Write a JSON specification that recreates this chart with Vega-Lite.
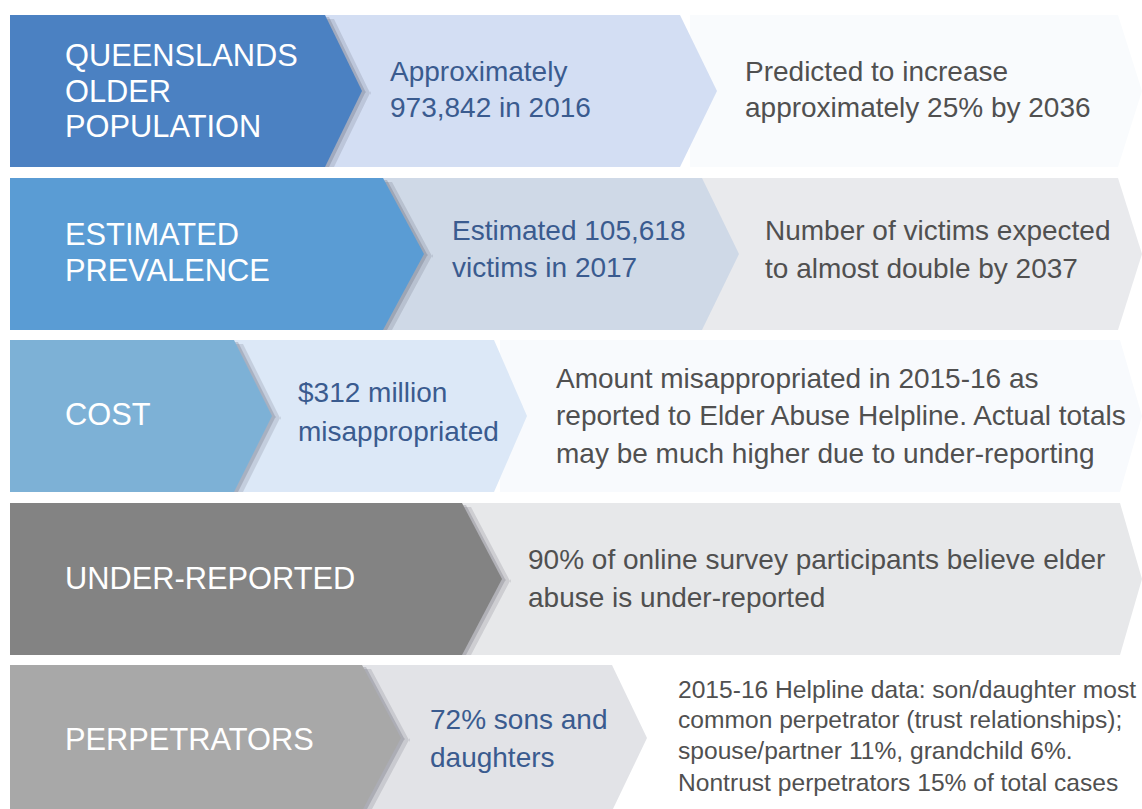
{
  "$schema": "https://vega.github.io/schema/vega-lite/v6.json",
  "width": 1142,
  "height": 809,
  "padding": 0,
  "autosize": "none",
  "background": "#ffffff",
  "config": {"view": {"stroke": null}, "axis": {"grid": false}},
  "datasets": {
    "shapes": [
      {"id": "r1note", "layer": "note", "x": 690, "y": 15, "y2": 167},
      {"id": "r1note", "layer": "note", "x": 1118, "y": 15, "y2": 167},
      {"id": "r1note", "layer": "note", "x": 1142, "y": 91, "y2": 91},
      {"id": "r1mid", "layer": "mid", "x": 300, "y": 15, "y2": 167},
      {"id": "r1mid", "layer": "mid", "x": 680, "y": 15, "y2": 167},
      {"id": "r1mid", "layer": "mid", "x": 717, "y": 91, "y2": 91},
      {"id": "r1label", "layer": "label", "x": 10, "y": 15, "y2": 167},
      {"id": "r1label", "layer": "label", "x": 325, "y": 15, "y2": 167},
      {"id": "r1label", "layer": "label", "x": 362, "y": 91, "y2": 91},

      {"id": "r2note", "layer": "note", "x": 700, "y": 178, "y2": 330},
      {"id": "r2note", "layer": "note", "x": 1118, "y": 178, "y2": 330},
      {"id": "r2note", "layer": "note", "x": 1142, "y": 254, "y2": 254},
      {"id": "r2mid", "layer": "mid", "x": 360, "y": 178, "y2": 330},
      {"id": "r2mid", "layer": "mid", "x": 702, "y": 178, "y2": 330},
      {"id": "r2mid", "layer": "mid", "x": 739, "y": 254, "y2": 254},
      {"id": "r2label", "layer": "label", "x": 10, "y": 178, "y2": 330},
      {"id": "r2label", "layer": "label", "x": 383, "y": 178, "y2": 330},
      {"id": "r2label", "layer": "label", "x": 424, "y": 254, "y2": 254},

      {"id": "r3note", "layer": "note", "x": 500, "y": 340, "y2": 492},
      {"id": "r3note", "layer": "note", "x": 1120, "y": 340, "y2": 492},
      {"id": "r3note", "layer": "note", "x": 1142, "y": 416, "y2": 416},
      {"id": "r3mid", "layer": "mid", "x": 210, "y": 340, "y2": 492},
      {"id": "r3mid", "layer": "mid", "x": 494, "y": 340, "y2": 492},
      {"id": "r3mid", "layer": "mid", "x": 527, "y": 416, "y2": 416},
      {"id": "r3label", "layer": "label", "x": 10, "y": 340, "y2": 492},
      {"id": "r3label", "layer": "label", "x": 234, "y": 340, "y2": 492},
      {"id": "r3label", "layer": "label", "x": 272, "y": 416, "y2": 416},

      {"id": "r4note", "layer": "note", "x": 440, "y": 503, "y2": 655},
      {"id": "r4note", "layer": "note", "x": 1120, "y": 503, "y2": 655},
      {"id": "r4note", "layer": "note", "x": 1142, "y": 579, "y2": 579},
      {"id": "r4label", "layer": "label", "x": 10, "y": 503, "y2": 655},
      {"id": "r4label", "layer": "label", "x": 462, "y": 503, "y2": 655},
      {"id": "r4label", "layer": "label", "x": 502, "y": 579, "y2": 579},

      {"id": "r5mid", "layer": "mid", "x": 340, "y": 665, "y2": 811},
      {"id": "r5mid", "layer": "mid", "x": 612, "y": 665, "y2": 811},
      {"id": "r5mid", "layer": "mid", "x": 647, "y": 738, "y2": 738},
      {"id": "r5label", "layer": "label", "x": 10, "y": 665, "y2": 811},
      {"id": "r5label", "layer": "label", "x": 362, "y": 665, "y2": 811},
      {"id": "r5label", "layer": "label", "x": 401, "y": 738, "y2": 738}
    ],
    "texts": [
      {"part": "label", "x": 65, "y": 57, "text": "QUEENSLANDS"},
      {"part": "label", "x": 65, "y": 93, "text": "OLDER"},
      {"part": "label", "x": 65, "y": 128, "text": "POPULATION"},
      {"part": "mid", "x": 390, "y": 73, "text": "Approximately"},
      {"part": "mid", "x": 390, "y": 109, "text": "973,842 in 2016"},
      {"part": "note", "x": 745, "y": 73, "text": "Predicted to increase"},
      {"part": "note", "x": 745, "y": 109, "text": "approximately 25% by 2036"},

      {"part": "label", "x": 65, "y": 236, "text": "ESTIMATED"},
      {"part": "label", "x": 65, "y": 272, "text": "PREVALENCE"},
      {"part": "mid", "x": 452, "y": 232, "text": "Estimated 105,618"},
      {"part": "mid", "x": 452, "y": 269, "text": "victims in 2017"},
      {"part": "note", "x": 765, "y": 232, "text": "Number of victims expected"},
      {"part": "note", "x": 765, "y": 270, "text": "to almost double by 2037"},

      {"part": "label", "x": 65, "y": 416, "text": "COST"},
      {"part": "mid", "x": 298, "y": 394, "text": "$312 million"},
      {"part": "mid", "x": 298, "y": 433, "text": "misappropriated"},
      {"part": "note", "x": 556, "y": 380, "text": "Amount misappropriated in 2015-16 as"},
      {"part": "note", "x": 556, "y": 417, "text": "reported to Elder Abuse Helpline. Actual totals"},
      {"part": "note", "x": 556, "y": 455, "text": "may be much higher due to under-reporting"},

      {"part": "label", "x": 65, "y": 580, "text": "UNDER-REPORTED"},
      {"part": "note", "x": 528, "y": 561, "text": "90% of online survey participants believe elder"},
      {"part": "note", "x": 528, "y": 599, "text": "abuse is under-reported"},

      {"part": "label", "x": 65, "y": 741, "text": "PERPETRATORS"},
      {"part": "mid", "x": 430, "y": 721, "text": "72% sons and"},
      {"part": "mid", "x": 430, "y": 759, "text": "daughters"},
      {"part": "small", "x": 678, "y": 691, "text": "2015-16 Helpline data: son/daughter most"},
      {"part": "small", "x": 678, "y": 721, "text": "common perpetrator (trust relationships);"},
      {"part": "small", "x": 678, "y": 752, "text": "spouse/partner 11%, grandchild 6%."},
      {"part": "small", "x": 678, "y": 784, "text": "Nontrust perpetrators 15% of total cases"}
    ]
  },
  "layer": [
    {
      "data": {"name": "shapes"},
      "transform": [{"filter": "datum.layer === 'note'"}],
      "mark": {"type": "area", "orient": "vertical", "interpolate": "linear"},
      "encoding": {
        "x": {"field": "x", "type": "quantitative", "scale": {"domain": [0, 1142], "nice": false, "zero": false}, "axis": null},
        "y": {"field": "y", "type": "quantitative", "scale": {"domain": [0, 809], "nice": false, "zero": false, "reverse": true}, "axis": null},
        "y2": {"field": "y2"},
        "color": {"field": "id", "type": "nominal", "legend": null,
          "scale": {"domain": ["r1note", "r2note", "r3note", "r4note", "r1mid", "r2mid", "r3mid", "r5mid", "r1label", "r2label", "r3label", "r4label", "r5label"],
                    "range": ["#f9fbfd", "#e9eaed", "#f8fafd", "#e7e8ea", "#d3def3", "#cfd9e7", "#dce8f7", "#e2e3e7", "#4b81c2", "#5a9cd4", "#7db1d6", "#838383", "#a8a8a8"]}}
      }
    },
    {
      "data": {"name": "shapes"},
      "transform": [{"filter": "datum.layer === 'mid'"}],
      "mark": {"type": "area", "orient": "vertical", "interpolate": "linear"},
      "encoding": {
        "x": {"field": "x", "type": "quantitative"},
        "y": {"field": "y", "type": "quantitative"},
        "y2": {"field": "y2"},
        "color": {"field": "id", "type": "nominal", "legend": null}
      }
    },
    {
      "data": {"name": "shapes"},
      "transform": [{"filter": "datum.layer === 'label'"}],
      "mark": {"type": "area", "orient": "vertical", "interpolate": "linear", "color": "#1a1a2a", "opacity": 0.12, "xOffset": 9, "yOffset": 4},
      "encoding": {
        "x": {"field": "x", "type": "quantitative"},
        "y": {"field": "y", "type": "quantitative"},
        "y2": {"field": "y2"},
        "detail": {"field": "id", "type": "nominal"}
      }
    },
    {
      "data": {"name": "shapes"},
      "transform": [{"filter": "datum.layer === 'label'"}],
      "mark": {"type": "area", "orient": "vertical", "interpolate": "linear", "color": "#1a1a2a", "opacity": 0.16, "xOffset": 4, "yOffset": 2},
      "encoding": {
        "x": {"field": "x", "type": "quantitative"},
        "y": {"field": "y", "type": "quantitative"},
        "y2": {"field": "y2"},
        "detail": {"field": "id", "type": "nominal"}
      }
    },
    {
      "data": {"name": "shapes"},
      "transform": [{"filter": "datum.layer === 'label'"}],
      "mark": {"type": "area", "orient": "vertical", "interpolate": "linear"},
      "encoding": {
        "x": {"field": "x", "type": "quantitative"},
        "y": {"field": "y", "type": "quantitative"},
        "y2": {"field": "y2"},
        "color": {"field": "id", "type": "nominal", "legend": null}
      }
    },
    {
      "data": {"name": "texts"},
      "transform": [{"filter": "datum.part === 'label'"}],
      "mark": {"type": "text", "align": "left", "baseline": "middle", "font": "Liberation Sans", "fontSize": 30.8, "color": "#ffffff"},
      "encoding": {
        "x": {"field": "x", "type": "quantitative"},
        "y": {"field": "y", "type": "quantitative"},
        "text": {"field": "text"}
      }
    },
    {
      "data": {"name": "texts"},
      "transform": [{"filter": "datum.part === 'mid'"}],
      "mark": {"type": "text", "align": "left", "baseline": "middle", "font": "Liberation Sans", "fontSize": 28, "color": "#3a5b8f"},
      "encoding": {
        "x": {"field": "x", "type": "quantitative"},
        "y": {"field": "y", "type": "quantitative"},
        "text": {"field": "text"}
      }
    },
    {
      "data": {"name": "texts"},
      "transform": [{"filter": "datum.part === 'note'"}],
      "mark": {"type": "text", "align": "left", "baseline": "middle", "font": "Liberation Sans", "fontSize": 28, "color": "#505050"},
      "encoding": {
        "x": {"field": "x", "type": "quantitative"},
        "y": {"field": "y", "type": "quantitative"},
        "text": {"field": "text"}
      }
    },
    {
      "data": {"name": "texts"},
      "transform": [{"filter": "datum.part === 'small'"}],
      "mark": {"type": "text", "align": "left", "baseline": "middle", "font": "Liberation Sans", "fontSize": 24.6, "color": "#505050"},
      "encoding": {
        "x": {"field": "x", "type": "quantitative"},
        "y": {"field": "y", "type": "quantitative"},
        "text": {"field": "text"}
      }
    }
  ]
}
